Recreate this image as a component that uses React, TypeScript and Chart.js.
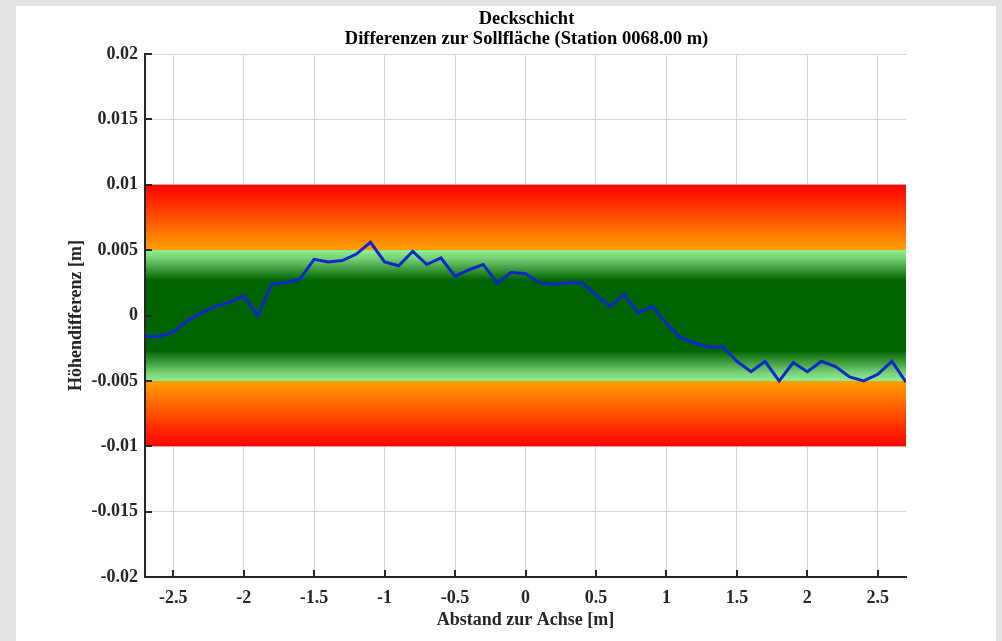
import React, { useEffect, useRef } from "react";
import { Chart, registerables } from "chart.js";

Chart.register(...registerables);

const titleLines = ["Deckschicht", "Differenzen zur Sollfläche (Station 0068.00 m)"];
const xAxisTitle = "Abstand zur Achse [m]";
const yAxisTitle = "Höhendifferenz [m]";

const distance = [
  -2.7, -2.6, -2.5, -2.4, -2.3, -2.2, -2.1, -2.0, -1.9, -1.8, -1.7, -1.6, -1.5, -1.4,
  -1.3, -1.2, -1.1, -1.0, -0.9, -0.8, -0.7, -0.6, -0.5, -0.4, -0.3, -0.2, -0.1, 0.0,
  0.1, 0.2, 0.3, 0.4, 0.5, 0.6, 0.7, 0.8, 0.9, 1.0, 1.1, 1.2, 1.3, 1.4, 1.5, 1.6,
  1.7, 1.8, 1.9, 2.0, 2.1, 2.2, 2.3, 2.4, 2.5, 2.6, 2.7,
];

const heightDiff = [
  -0.0016, -0.0016, -0.0013, -0.0004, 0.0002, 0.0007, 0.001, 0.0015, 0.0, 0.0024, 0.0025,
  0.0028, 0.0043, 0.0041, 0.0042, 0.0047, 0.0056, 0.0041, 0.0038, 0.0049, 0.0039, 0.0044,
  0.003, 0.0035, 0.0039, 0.0025, 0.0033, 0.0032, 0.0025, 0.0024, 0.0025, 0.0025, 0.0016,
  0.0007, 0.0016, 0.0002, 0.0007, -0.0006, -0.0017, -0.0021, -0.0024, -0.0024, -0.0035,
  -0.0043, -0.0035, -0.005, -0.0036, -0.0043, -0.0035, -0.0039, -0.0047, -0.005, -0.0045,
  -0.0035, -0.0051,
];

const xTicks = [-2.5, -2, -1.5, -1, -0.5, 0, 0.5, 1, 1.5, 2, 2.5];
const yTicks = [-0.02, -0.015, -0.01, -0.005, 0, 0.005, 0.01, 0.015, 0.02];

// tolerance zones: outer limit, warning limit, inner (fully good) limit
const outerLimit = 0.01;
const warnLimit = 0.005;
const innerLimit = 0.0027;

const FONT = '"Liberation Serif", "Times New Roman", serif';
const AXIS_COLOR = "#262626";

const bandPlugin = {
  id: "bands",
  beforeDatasetsDraw(chart: any) {
    const { ctx, chartArea, scales } = chart;
    const y = scales.y;
    const yTop = y.getPixelForValue(outerLimit);
    const yBot = y.getPixelForValue(-outerLimit);
    const h = yBot - yTop;
    const stop = (v: number) => (y.getPixelForValue(v) - yTop) / h;
    const g = ctx.createLinearGradient(0, yTop, 0, yBot);
    g.addColorStop(0, "rgb(255,0,0)");
    g.addColorStop(stop(warnLimit) - 0.0005, "rgb(255,160,0)");
    g.addColorStop(stop(warnLimit), "rgb(144,238,144)");
    g.addColorStop(stop(warnLimit - 0.0006), "rgb(120,210,120)");
    g.addColorStop(stop(innerLimit), "rgb(0,100,0)");
    g.addColorStop(stop(-innerLimit), "rgb(0,100,0)");
    g.addColorStop(stop(-warnLimit + 0.0006), "rgb(120,210,120)");
    g.addColorStop(stop(-warnLimit), "rgb(144,238,144)");
    g.addColorStop(stop(-warnLimit) + 0.0005, "rgb(255,160,0)");
    g.addColorStop(1, "rgb(255,0,0)");
    ctx.save();
    ctx.fillStyle = g;
    ctx.fillRect(chartArea.left, yTop, chartArea.right - chartArea.left, h);
    ctx.restore();
  },
};

const decorPlugin = {
  id: "decor",
  afterDraw(chart: any) {
    const { ctx, chartArea, scales } = chart;
    ctx.save();
    // inward tick marks
    ctx.strokeStyle = AXIS_COLOR;
    ctx.lineWidth = 2;
    const len = 7;
    xTicks.forEach((v) => {
      const px = Math.round(scales.x.getPixelForValue(v));
      ctx.beginPath();
      ctx.moveTo(px, chartArea.bottom);
      ctx.lineTo(px, chartArea.bottom - len);
      ctx.stroke();
    });
    yTicks.forEach((v) => {
      const py = Math.round(scales.y.getPixelForValue(v));
      ctx.beginPath();
      ctx.moveTo(chartArea.left, py);
      ctx.lineTo(chartArea.left + len, py);
      ctx.stroke();
    });
    // title
    ctx.fillStyle = "#000";
    ctx.font = `bold 18.5px ${FONT}`;
    ctx.textAlign = "center";
    ctx.textBaseline = "middle";
    const cx = (chartArea.left + chartArea.right) / 2 + 1;
    ctx.fillText(titleLines[0], cx, 19);
    ctx.fillText(titleLines[1], cx, 39);
    ctx.restore();
  },
};

export default function App() {
  const canvasRef = useRef<HTMLCanvasElement | null>(null);

  useEffect(() => {
    const canvas = canvasRef.current;
    if (!canvas) return;
    const chart = new Chart(canvas, {
      type: "line",
      data: {
        datasets: [
          {
            data: distance.map((x, i) => ({ x, y: heightDiff[i] })),
            borderColor: "#1028c8",
            borderWidth: 3,
            pointRadius: 0,
            tension: 0,
            fill: false,
          },
        ],
      },
      options: {
        animation: false,
        responsive: false,
        layout: { padding: { top: 54, right: 96, left: 0, bottom: 0 } },
        plugins: {
          legend: { display: false },
          title: { display: false },
          tooltip: { enabled: false },
        },
        scales: {
          x: {
            type: "linear",
            min: -2.7,
            max: 2.7,
            afterBuildTicks: (scale: any) => {
              scale.ticks = xTicks.map((value) => ({ value }));
            },
            afterFit: (scale: any) => {
              scale.height = 64;
            },
            grid: { color: "#d6d6d6", lineWidth: 1, drawTicks: false, z: -1 },
            border: { display: true, color: AXIS_COLOR, width: 2, z: 1 },
            ticks: {
              padding: 11,
              color: AXIS_COLOR,
              font: { family: FONT, size: 18, weight: "bold" },
              callback: (v: any) => String(Number(Number(v).toFixed(2))),
              maxRotation: 0,
              autoSkip: false,
            },
            title: {
              display: true,
              text: xAxisTitle,
              color: AXIS_COLOR,
              font: { family: FONT, size: 18, weight: "bold" },
              padding: { top: 0, bottom: 10 },
            },
          },
          y: {
            type: "linear",
            min: -0.02,
            max: 0.02,
            afterBuildTicks: (scale: any) => {
              scale.ticks = yTicks.map((value) => ({ value }));
            },
            afterFit: (scale: any) => {
              scale.width = 145;
            },
            grid: { color: "#d6d6d6", lineWidth: 1, drawTicks: false, z: -1 },
            border: { display: true, color: AXIS_COLOR, width: 2, z: 1 },
            ticks: {
              padding: 7,
              color: AXIS_COLOR,
              font: { family: FONT, size: 18, weight: "bold" },
              callback: (v: any) => String(Number(Number(v).toFixed(4))),
              autoSkip: false,
            },
            title: {
              display: true,
              text: yAxisTitle,
              color: AXIS_COLOR,
              font: { family: FONT, size: 18, weight: "bold" },
              padding: { top: 66, bottom: 0 },
            },
          },
        },
      } as any,
      plugins: [bandPlugin, decorPlugin],
    });
    return () => chart.destroy();
  }, []);

  return (
    <div
      style={{
        position: "absolute",
        left: 0,
        top: 0,
        width: 1002,
        height: 641,
        background: "#e2e2e2",
        overflow: "hidden",
      }}
    >
      <div
        style={{
          position: "absolute",
          left: 16,
          top: 6,
          width: 980,
          height: 635,
          background: "#ffffff",
        }}
      />
      <canvas
        ref={canvasRef}
        width={1002}
        height={641}
        style={{ position: "absolute", left: 0, top: 0, width: 1002, height: 641 }}
      />
    </div>
  );
}
